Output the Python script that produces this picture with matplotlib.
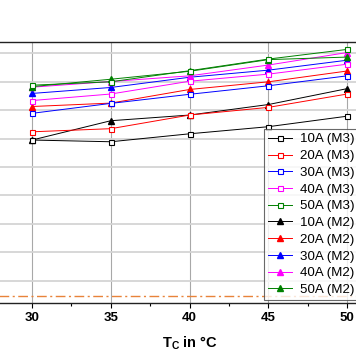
import matplotlib
matplotlib.use('Agg')
import matplotlib.pyplot as plt
from matplotlib.ticker import MultipleLocator

plt.rcParams['font.family'] = ['Liberation Sans', 'DejaVu Sans']
plt.rcParams['mathtext.fontset'] = 'custom'
plt.rcParams['mathtext.rm'] = 'Liberation Sans:bold'
plt.rcParams['mathtext.it'] = 'Liberation Sans:bold'
plt.rcParams['mathtext.default'] = 'rm'

# case temperature in degC
tc = [30, 35, 40, 45, 50]

# values (y-axis labels are cut off, grid units)
m3_10 = [4.95, 4.89, 5.17, 5.42, 5.79]
m3_20 = [5.24, 5.35, 5.83, 6.10, 6.57]
m3_30 = [5.89, 6.24, 6.56, 6.86, 7.21]
m3_40 = [6.34, 6.57, 7.02, 7.27, 7.62]
m3_50 = [6.88, 7.00, 7.39, 7.80, 8.14]

m2_10 = [4.95, 5.63, 5.83, 6.20, 6.76]
m2_20 = [6.13, 6.25, 6.73, 7.00, 7.38]
m2_30 = [6.59, 6.80, 7.16, 7.41, 7.76]
m2_40 = [6.81, 7.01, 7.21, 7.59, 8.03]
m2_50 = [6.83, 7.09, 7.37, 7.78, 7.87]

limit_y = -0.54

currents = ['10A', '20A', '30A', '40A', '50A']
colors = ['black', 'red', 'blue', 'magenta', 'green']
m3_series = [m3_10, m3_20, m3_30, m3_40, m3_50]
m2_series = [m2_10, m2_20, m2_30, m2_40, m2_50]

fig = plt.figure(figsize=(3.56, 3.64), dpi=100)
ax = fig.add_axes([-0.0208, 0.1684, 1.107, 0.7162])

for cur, col, ys in zip(currents, colors, m3_series):
    ax.plot(tc, ys, color=col, lw=0.7, marker='s', ms=3.6, mfc='white',
            mec=col, mew=0.8, label=cur + ' (M3)', zorder=4)
for cur, col, ys in zip(currents, colors, m2_series):
    ax.plot(tc, ys, color=col, lw=0.7, marker='^', ms=4.2, mfc=col,
            mec=col, label=cur + ' (M2)', zorder=3)

ax.axhline(limit_y, color='#e8833a', lw=1.0, ls=(0, (7, 2.5, 1.5, 2.5)), zorder=2)

ax.set_xlim(27.5, 52.5)
ax.set_ylim(-0.774, 8.40)
ax.xaxis.set_major_locator(MultipleLocator(5))
ax.xaxis.set_minor_locator(MultipleLocator(2.5))
ax.yaxis.set_major_locator(MultipleLocator(1))
ax.grid(axis='x', color='#a8a8a8', lw=0.8)
ax.grid(axis='y', color='#d4d4d4', lw=1.3)
ax.set_axisbelow(True)
ax.tick_params(axis='x', which='major', direction='out', length=3.5, width=0.8,
               labelsize=9.5, pad=3)
ax.tick_params(axis='x', which='minor', direction='out', length=2, width=0.8)
ax.tick_params(axis='y', labelleft=False, left=False)
for lab in ax.get_xticklabels():
    lab.set_fontweight('bold')
for sp in ax.spines.values():
    sp.set_linewidth(1.0)
    sp.set_color('#222222')

ax.set_xlabel('T$_C$ in °C', fontsize=10.5, fontweight='bold', labelpad=8)

leg = ax.legend(loc='lower left', bbox_to_anchor=(0.689, 0.010), fontsize=9.6,
                frameon=True, fancybox=False, edgecolor='#444444',
                handlelength=1.8, handletextpad=0.6, labelspacing=0.33,
                borderpad=0.3, borderaxespad=0)
leg.get_frame().set_linewidth(0.8)
leg.set_zorder(6)

fig.savefig('out.png', dpi=100)
